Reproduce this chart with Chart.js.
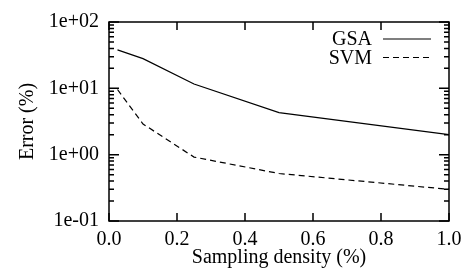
<!DOCTYPE html>
<html>
<head>
<meta charset="utf-8">
<script src="https://cdn.jsdelivr.net/npm/chart.js@4.4.1/dist/chart.umd.min.js"></script>
<style>
  html, body { margin: 0; padding: 0; background: #fff; }
  #wrap { width: 471px; height: 279px; }
</style>
</head>
<body>
<div id="wrap"><canvas id="chart"></canvas></div>
<script>
// sampling density (%) vs error (%)
const gsaX = [0.025, 0.1, 0.25, 0.5, 1.0];
const gsaY = [38, 28, 11.6, 4.3, 2.0];
const svmX = [0.025, 0.1, 0.25, 0.5, 1.0];
const svmY = [9.6, 2.9, 0.92, 0.52, 0.3];

const seriesNames = ['GSA', 'SVM'];
const xTicks = [0, 0.2, 0.4, 0.6, 0.8, 1.0];
const yMin = 0.1, yMax = 100;

const FONT = 'Liberation Serif';

// inward ticks on all four sides + frame
const frameTicks = {
    id: 'frameTicks',
    afterDatasetsDraw(chart) {
        const { ctx, chartArea: a, scales } = chart;
        const xs = scales.x, ys = scales.y;
        ctx.save();
        ctx.strokeStyle = '#000';
        ctx.lineWidth = 1.5;
        ctx.strokeRect(a.left, a.top, a.right - a.left, a.bottom - a.top);
        ctx.beginPath();
        xTicks.forEach(v => {
            const px = xs.getPixelForValue(v);
            ctx.moveTo(px, a.bottom); ctx.lineTo(px, a.bottom - 8);
            ctx.moveTo(px, a.top); ctx.lineTo(px, a.top + 8);
        });
        for (let d = yMin; d < yMax * 1.01; d *= 10) {
            for (let k = 1; k <= 9; k++) {
                const v = d * k;
                if (v > yMax * 1.001) break;
                const py = ys.getPixelForValue(v);
                const len = k === 1 ? 10 : 5;
                ctx.moveTo(a.left, py); ctx.lineTo(a.left + len, py);
                ctx.moveTo(a.right, py); ctx.lineTo(a.right - len, py);
            }
        }
        ctx.stroke();

        // legend: text on the left, line sample on the right
        ctx.font = '20px "' + FONT + '"';
        ctx.fillStyle = '#000';
        ctx.textAlign = 'right';
        ctx.textBaseline = 'middle';
        const rows = [39, 57.5];
        chart.data.datasets.forEach((ds, i) => {
            ctx.fillText(ds.label, 372, rows[i] + 1);
            ctx.beginPath();
            ctx.lineWidth = 1.2;
            ctx.setLineDash(ds.borderDash || []);
            ctx.moveTo(383, rows[i]);
            ctx.lineTo(431, rows[i]);
            ctx.stroke();
            ctx.setLineDash([]);
        });
        ctx.restore();
    }
};

new Chart(document.getElementById('chart'), {
    type: 'line',
    data: {
        datasets: [
            {
                label: seriesNames[0],
                data: gsaX.map((x, i) => ({ x: x, y: gsaY[i] })),
                borderColor: '#000',
                borderWidth: 1.2,
                pointRadius: 0,
                tension: 0
            },
            {
                label: seriesNames[1],
                data: svmX.map((x, i) => ({ x: x, y: svmY[i] })),
                borderColor: '#000',
                borderWidth: 1.2,
                borderDash: [6, 4],
                pointRadius: 0,
                tension: 0
            }
        ]
    },
    options: {
        responsive: true,
        maintainAspectRatio: false,
        animation: false,
        layout: { padding: { top: 18, right: 22, left: 0, bottom: 0 } },
        plugins: {
            legend: { display: false },
            tooltip: { enabled: false }
        },
        scales: {
            x: {
                type: 'linear',
                min: 0,
                max: 1,
                grid: { display: false, drawTicks: false },
                border: { display: false },
                ticks: {
                    stepSize: 0.2,
                    padding: 7,
                    color: '#000',
                    font: { family: FONT, size: 20 },
                    callback: v => v.toFixed(1)
                },
                title: {
                    display: true,
                    text: 'Sampling density (%)',
                    color: '#000',
                    font: { family: FONT, size: 20 },
                    padding: { top: 0, bottom: 9 }
                },
                afterFit: s => { s.height = 58; }
            },
            y: {
                type: 'logarithmic',
                min: yMin,
                max: yMax,
                grid: { display: false, drawTicks: false },
                border: { display: false },
                ticks: {
                    padding: 10,
                    autoSkip: false,
                    color: '#000',
                    font: { family: FONT, size: 20 },
                    callback: v => {
                        const e = Math.log10(v);
                        if (Math.abs(e - Math.round(e)) > 1e-6) return '';
                        const n = Math.round(e);
                        return '1e' + (n < 0 ? '-' : '+') + String(Math.abs(n)).padStart(2, '0');
                    }
                },
                title: {
                    display: true,
                    text: 'Error (%)',
                    color: '#000',
                    font: { family: FONT, size: 20 },
                    padding: { top: 16, bottom: 0 }
                },
                afterFit: s => { s.width = 109; }
            }
        }
    },
    plugins: [frameTicks]
});
</script>
</body>
</html>
